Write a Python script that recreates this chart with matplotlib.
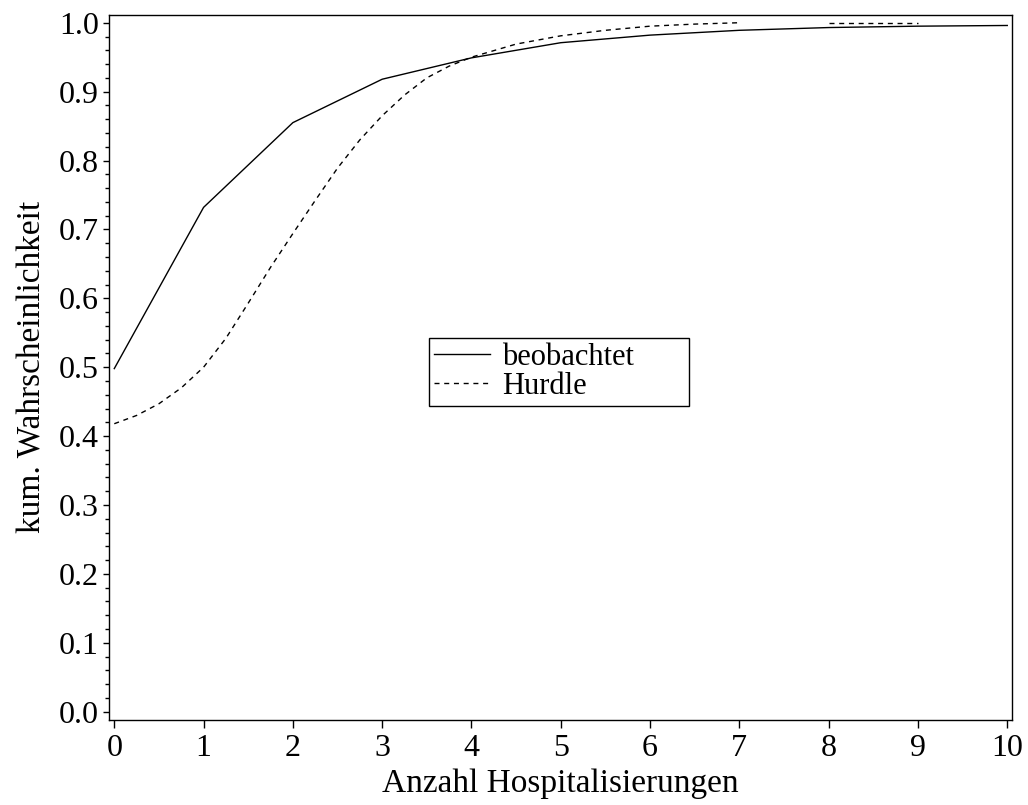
import matplotlib
matplotlib.use("Agg")
import matplotlib.pyplot as plt
import numpy as np

plt.rcParams["font.family"] = ["Liberation Serif", "DejaVu Serif"]

# observed cumulative share by number of hospitalisations
counts = [0, 1, 2, 3, 4, 5, 6, 7, 8, 9, 10]
observed = [0.498, 0.732, 0.855, 0.918, 0.949, 0.971, 0.982, 0.989, 0.993, 0.995, 0.996]

# hurdle model curve (smoothed), first piece 0..7
hurdle_x = [0, 0.25, 0.5, 0.75, 1.0, 1.25, 1.5, 1.75, 2.0, 2.25, 2.5, 2.75,
            3.0, 3.25, 3.5, 3.75, 4.0, 4.5, 5.0, 5.5, 6.0, 6.5, 7.0]
hurdle_y = [0.418, 0.430, 0.447, 0.470, 0.500, 0.542, 0.593, 0.645, 0.694, 0.742, 0.789, 0.830,
            0.865, 0.895, 0.920, 0.937, 0.950, 0.969, 0.981, 0.989, 0.995, 0.998, 1.0]
# second piece after the break
hurdle_tail_x = [8, 9]
hurdle_tail_y = [1.0, 1.0]

xticks = list(range(0, 11))
yticks = [0.0, 0.1, 0.2, 0.3, 0.4, 0.5, 0.6, 0.7, 0.8, 0.9, 1.0]

fig = plt.figure(figsize=(10.28, 8.05), dpi=100)
ax = fig.add_axes([0.1063, 0.1056, 0.8784, 0.8761])

dash = (3.6, 3.4)
ax.plot(counts, observed, color="black", lw=1.0, label="beobachtet")
ax.plot(hurdle_x, hurdle_y, color="black", lw=1.0, dashes=dash, label="Hurdle")
ax.plot(hurdle_tail_x, hurdle_tail_y, color="black", lw=1.0, dashes=dash)

ax.set_xlim(-0.056, 10.056)
ax.set_ylim(-0.012, 1.0116)
ax.set_xticks(xticks)
ax.set_yticks(yticks)
ax.set_yticklabels([f"{v:.1f}" for v in yticks])
ax.set_yticks(np.arange(0, 1.001, 0.02), minor=True)

ax.tick_params(axis="both", which="major", labelsize=23, direction="out", width=1.0)
ax.tick_params(axis="y", which="major", length=4.5, pad=3)
ax.tick_params(axis="y", which="minor", length=2.6, width=1.0)
ax.tick_params(axis="x", which="major", length=6, pad=4)
for s in ax.spines.values():
    s.set_linewidth(1.0)

ax.set_xlabel("Anzahl Hospitalisierungen", fontsize=24, labelpad=4)
ax.set_ylabel("kum. Wahrscheinlichkeit", fontsize=24, labelpad=8)

leg = ax.legend(loc="upper left", bbox_to_anchor=(0.354, 0.541, 0.288, 0.0),
                mode="expand", fontsize=22, frameon=True, fancybox=False,
                edgecolor="black", framealpha=1, borderpad=0.15, labelspacing=0.0,
                handlelength=1.85, handletextpad=0.4, borderaxespad=0)
leg.get_frame().set_linewidth(1.0)

fig.savefig("out.png", dpi=100)
